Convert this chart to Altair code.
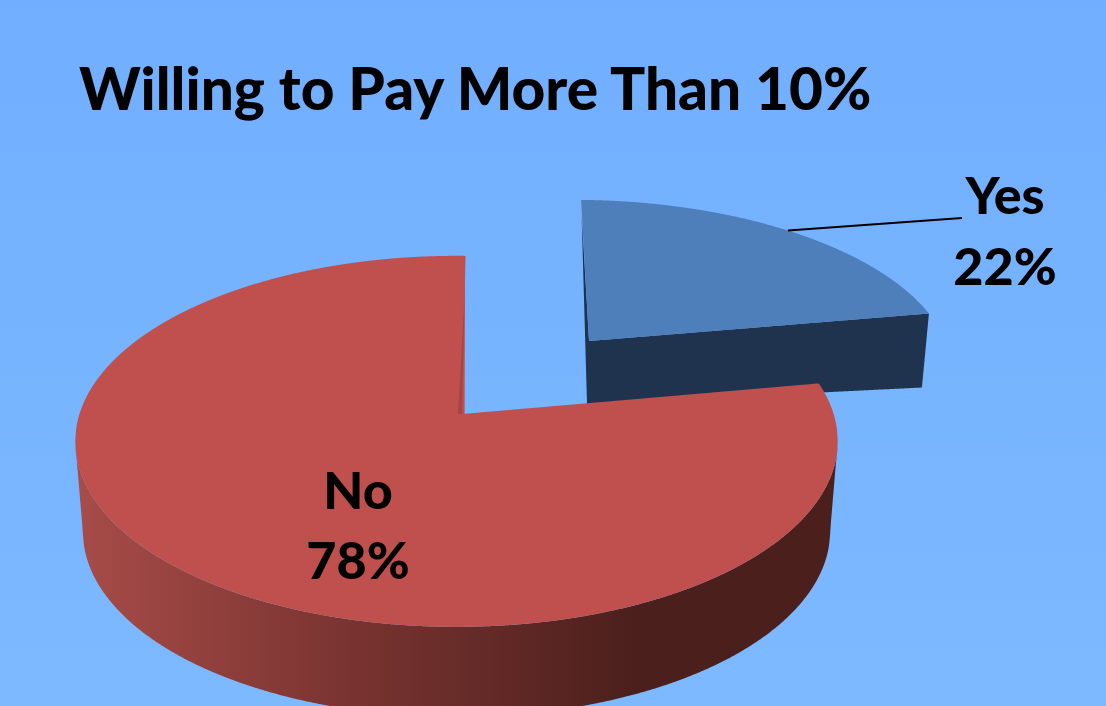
import math

import altair as alt
import numpy as np
import pandas as pd

# Survey result
categories = ["Yes", "No"]
shares = [22, 78]
title_text = "Willing to Pay More Than 10%"

W, H = 1106, 706
FONT = "Lato"


def plane_point(theta, p):
    """Perspective projection of a unit-circle point, theta clockwise from the far side."""
    a = math.radians(theta + p["rot"])
    u, v = math.sin(a), math.cos(a)
    w = 1 + p["k"] * v + p["m"] * u
    return (p["ax"] + (p["rx"] * u + p["tx"] * v) / w,
            p["ay"] - (p["ry"] * v + p["ty"] * u) / w)


def arc(start, end, p, n=360):
    return [plane_point(t, p) for t in np.linspace(start, end, n)]


def scan(poly):
    """Turn a polygon into top and bottom edges per x, the form an area mark draws."""
    pts = list(poly) + [poly[0]]
    xs = sorted(set(np.arange(math.ceil(min(q[0] for q in poly)),
                              max(q[0] for q in poly), 1.0).tolist())
                | {q[0] for q in poly if abs(q[0] - round(q[0])) > 1e-9 and len(poly) < 12}
                | {min(q[0] for q in poly), max(q[0] for q in poly)})
    rows = []
    for x in xs:
        ys = []
        for (x0, y0), (x1, y1) in zip(pts, pts[1:]):
            if min(x0, x1) <= x <= max(x0, x1):
                if x0 == x1:
                    ys += [y0, y1]
                else:
                    ys.append(y0 + (y1 - y0) * (x - x0) / (x1 - x0))
        if ys:
            rows.append({"x": x, "y": min(ys), "y2": max(ys)})
    return pd.DataFrame(rows)


def fill_layer(poly, color):
    return alt.Chart(scan(poly)).mark_area(color=color, clip=True, interpolate="linear").encode(
        x=alt.X("x:Q", scale=x_scale, axis=None),
        y=alt.Y("y:Q", scale=y_scale, axis=None),
        y2="y2:Q",
    )


x_scale = alt.Scale(domain=[0, W], nice=False, zero=False)
y_scale = alt.Scale(domain=[H, 0], nice=False, zero=False)

# Slice sweep comes straight from the shares
yes_sweep = shares[0] / sum(shares) * 360

NO_PIE = dict(ax=462, ay=414, rx=376, ry=181, tx=-27.5, ty=13, k=0.146, m=0.025, rot=4.8)
YES_PIE = dict(ax=589, ay=341, rx=358.8, ry=161.6, tx=-31, ty=8, k=0.146, m=0.017, rot=3.5)

RED = "#c0504d"
RED_INNER = "#a64541"
BLUE = "#4f7fba"
NAVY = "#1f334e"

# Extruded wall of the large slice
no_arc = arc(yes_sweep, 360, NO_PIE)
i_right = int(np.argmax([q[0] for q in no_arc]))
i_left = int(np.argmin([q[0] for q in no_arc]))
front = no_arc[i_right:i_left + 1]
under = [(457 + (x - 457) * 0.98, y + 90) for x, y in front]
wall_gradient = alt.Gradient(
    gradient="linear", x1=0, x2=1, y1=0, y2=0,
    stops=[
        alt.GradientStop(color="#a84c48", offset=0.0),
        alt.GradientStop(color="#7e3633", offset=0.32),
        alt.GradientStop(color="#4b1f1c", offset=0.74),
        alt.GradientStop(color="#4b1f1c", offset=1.0),
    ],
)
no_wall = fill_layer(front + under[::-1], wall_gradient)

# Top of the large slice, split at the near side so the notch stays open
apex = (NO_PIE["ax"], NO_PIE["ay"])
no_right = fill_layer([apex] + arc(yes_sweep, 181, NO_PIE), RED)
no_left = fill_layer([apex] + arc(179, 360, NO_PIE), RED)
rim = plane_point(360, NO_PIE)
no_inner = fill_layer(
    [(apex[0] + (rim[0] - apex[0]) * 0.75, apex[1] + (rim[1] - apex[1]) * 0.75),
     apex, (apex[0] - 4, apex[1])],
    RED_INNER,
)

# Pulled-out slice: side faces, then its top
yes_start = plane_point(0, YES_PIE)
yes_end = plane_point(yes_sweep, YES_PIE)
yes_apex = (YES_PIE["ax"], YES_PIE["ay"])
yes_side = fill_layer(
    [(yes_start[0] + 0.5, yes_start[1] + 15), yes_apex, yes_end,
     (yes_end[0] - 7, yes_end[1] + 74), (yes_apex[0] - 2, yes_apex[1] + 63)],
    NAVY,
)
yes_top = fill_layer([yes_apex] + arc(0, yes_sweep, YES_PIE), BLUE)

# Leader from the middle of the slice's rim to its label
leader_start = plane_point(yes_sweep / 2, YES_PIE)
leader = alt.Chart(pd.DataFrame({
    "x": [leader_start[0], 962],
    "y": [leader_start[1], 218],
})).mark_line(color="black", strokeWidth=2).encode(
    x=alt.X("x:Q", scale=x_scale, axis=None),
    y=alt.Y("y:Q", scale=y_scale, axis=None),
)

label_rows = []
for name, share, cx, y_name, y_share in zip(categories, shares, [1005, 358], [214, 509], [285, 579]):
    label_rows.append({"text": name, "x": cx, "y": y_name})
    label_rows.append({"text": f"{share}%", "x": cx, "y": y_share})

labels = alt.Chart(pd.DataFrame(label_rows)).mark_text(
    font=FONT, fontWeight=900, fontSize=52, color="black", baseline="alphabetic", align="center",
).encode(
    x=alt.X("x:Q", scale=x_scale, axis=None),
    y=alt.Y("y:Q", scale=y_scale, axis=None),
    text="text:N",
)

backdrop = alt.Chart(pd.DataFrame({"x": [0]})).mark_rect(
    color=alt.Gradient(
        gradient="linear", x1=0, x2=0, y1=0, y2=1,
        stops=[alt.GradientStop(color="#71aeff", offset=0.0),
               alt.GradientStop(color="#7db9ff", offset=1.0)],
    )
).encode(x=alt.value(0), x2=alt.value(W), y=alt.value(0), y2=alt.value(H))

chart = alt.layer(
    backdrop, yes_side, yes_top, no_wall, no_left, no_right, no_inner, leader, labels,
).properties(
    width=W,
    height=H,
    padding=0,
    autosize=alt.AutoSizeParams(type="none"),
    background="#74b1ff",
    title=alt.TitleParams(
        text=title_text, font=FONT, fontWeight=900, fontSize=58.5, color="black",
        anchor="start", baseline="alphabetic", offset=0, dx=79, dy=168,
    ),
).configure_view(stroke=None)

chart.save("out.html", embed_options={"renderer": "svg", "actions": False})
